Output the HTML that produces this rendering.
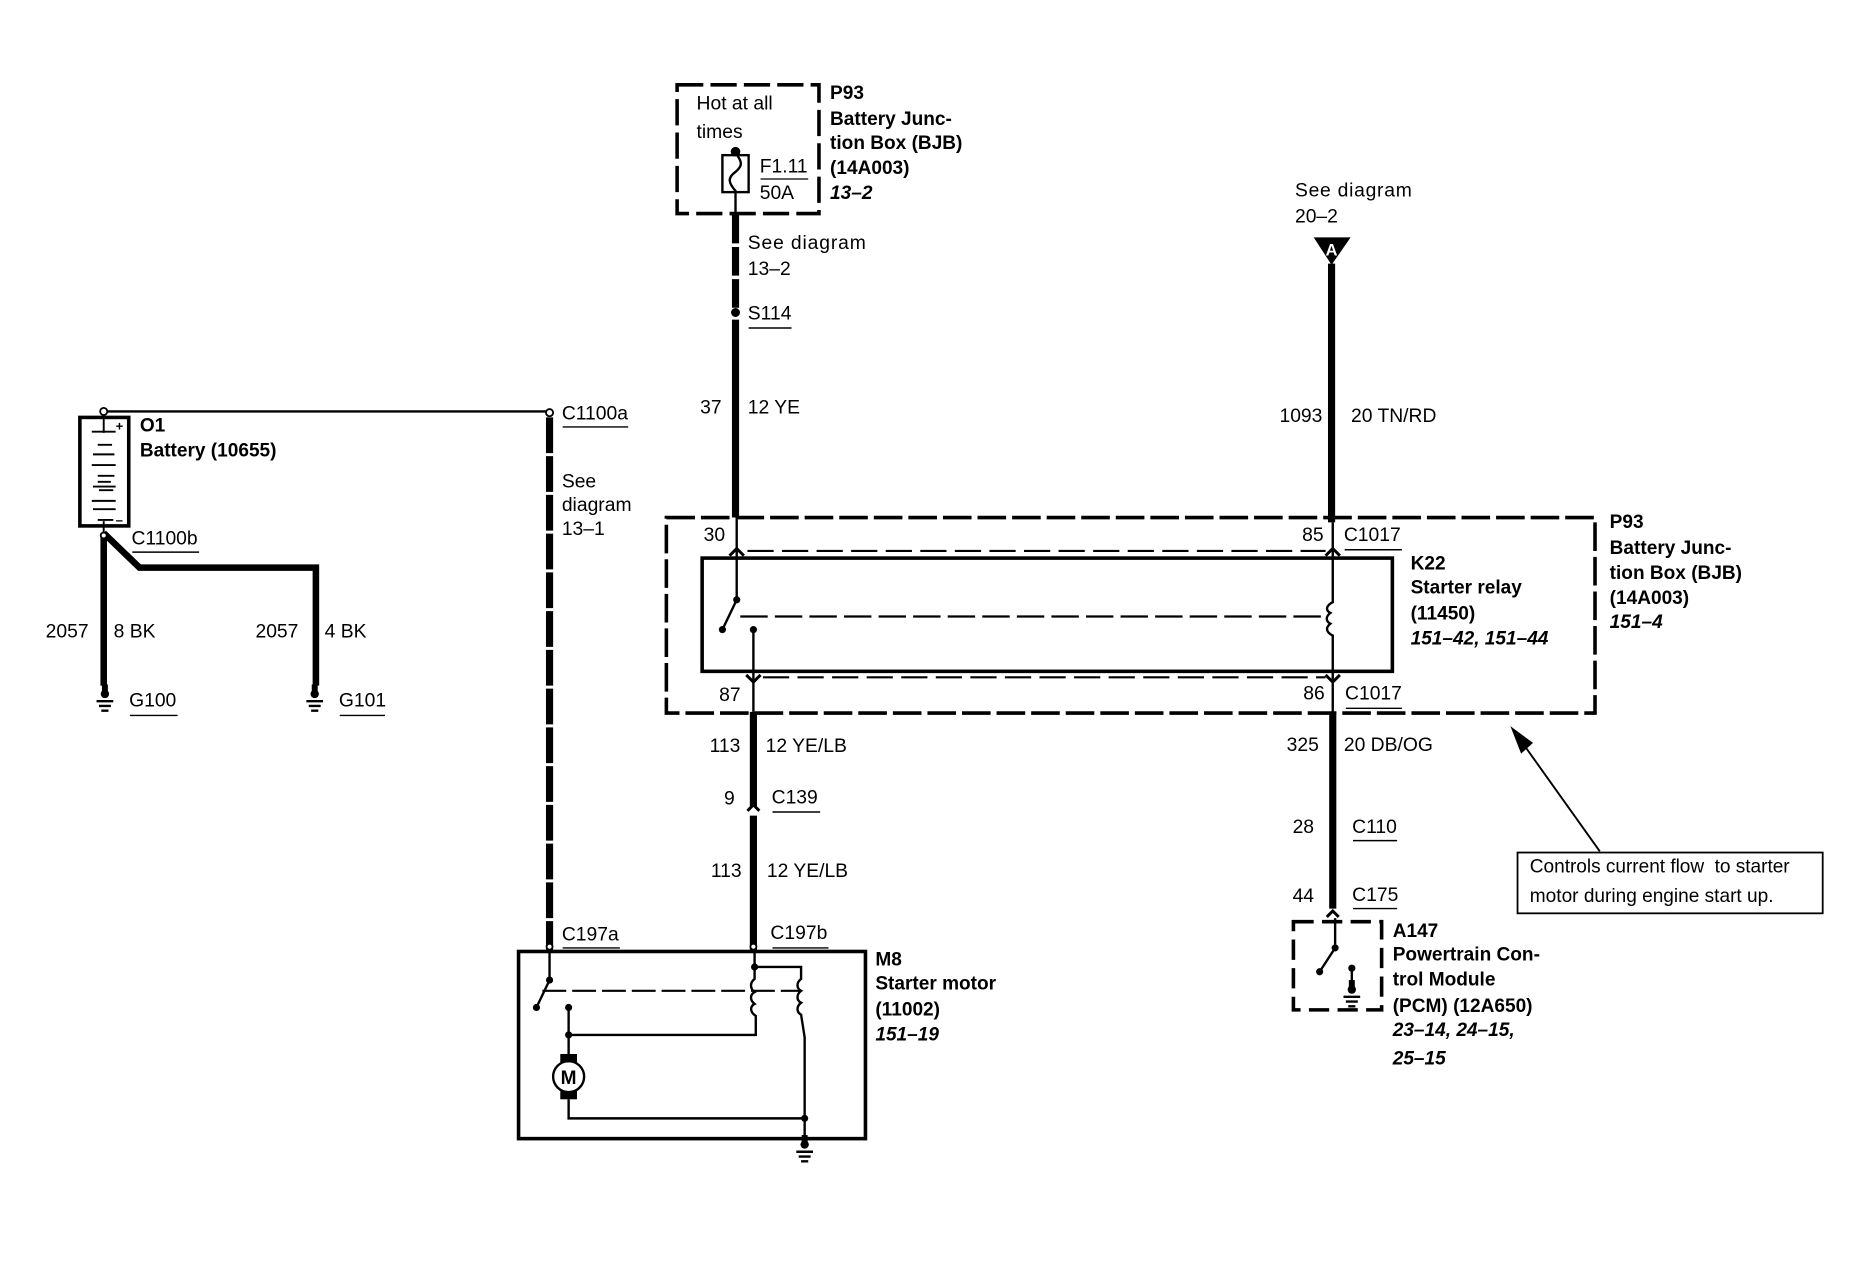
<!DOCTYPE html>
<html><head><meta charset="utf-8"><style>
html,body{margin:0;padding:0;background:#fff}
svg{display:block}
text{font-family:"Liberation Sans",sans-serif;font-size:16.2px;fill:#000}
.b{font-weight:bold;font-size:16px}.i{font-weight:bold;font-style:italic;font-size:16px}
.s{font-size:16px;white-space:pre}
</style></head><body>
<svg width="1868" height="1264" viewBox="0 0 1567 1060" xmlns="http://www.w3.org/2000/svg">
<defs>
<g id="gnd"><circle cx="0" cy="0" r="3.5"/><path d="M-7 6H7M-5 10H5M-3 14H3" stroke="#000" stroke-width="2" fill="none"/><rect x="-2.5" y="-8" width="5" height="8"/></g>
</defs>
<g fill="none" stroke="#000">
<!-- Battery -->
<rect x="67" y="350" width="41" height="91" stroke-width="3" fill="#fff"/>
<path d="M87 345V363M77 362H97M82 373H94M77 390H97M82 404H93M77 420H97" stroke-width="1.6"/>
<path d="M78 381H96M82 399H96M78 408H97M83 411H95M78 427H97M82 436H95M87 437V447" stroke-width="1.6"/>
<path d="M87 345H460" stroke-width="2"/>
<path d="M461 350V797" stroke-width="6" stroke-dasharray="30 2.5"/>
<path d="M87 447V575" stroke-width="5.5"/>
<path d="M87 447L117 476H265V575" stroke-width="5.5"/>
<!-- Fuse box -->
<rect x="568" y="71" width="119" height="108" stroke-width="3" stroke-dasharray="22 6"/>
<rect x="606" y="130" width="22" height="31" stroke-width="2"/>
<path d="M617 128C623 136 623 139 617 144C610 149 611 153 617 160V180" stroke-width="2"/>
<path d="M638 150H678" stroke-width="1"/>
<path d="M617 180V262" stroke-width="6" stroke-dasharray="24 3"/>
<path d="M617 268V434" stroke-width="6"/>
<path d="M1117 221V438" stroke-width="6"/>
<!-- Big dashed box -->
<rect x="559" y="434" width="779" height="164" stroke-width="3" stroke-dasharray="24 5"/>
<rect x="589" y="468" width="579" height="95" stroke-width="3"/>
<path d="M627 462H1112M640 568H1112" stroke-width="1.8" stroke-dasharray="22 7"/>
<path d="M621 517H1114" stroke-width="1.8" stroke-dasharray="23 6"/>
<path d="M618 434V503L606 528" stroke-width="2"/>
<path d="M632 528V597" stroke-width="2"/>
<path d="M1118 438V505C1112 508 1112 512 1116 514C1112 517 1112 521 1116 523C1112 526 1112 530 1118 533V597" stroke-width="2"/>
<path d="M612 466L618 460L624 466M626 566L632 572L638 566M1112 466L1118 460L1124 466M1112 566L1118 572L1124 566" stroke-width="2.5"/>
<!-- Lower wires -->
<path d="M632 597V676M632 684V797" stroke-width="6"/>
<path d="M1118 597V762" stroke-width="6"/>
<path d="M627 680L632 675L637 680M1113 769L1118 764L1123 769" stroke-width="2.5"/>
<!-- Motor box -->
<rect x="435" y="798" width="291" height="157" stroke-width="3"/>
<path d="M461 797V822L450 845" stroke-width="2"/>
<path d="M455 831H672" stroke-width="1.8" stroke-dasharray="20 5"/>
<path d="M477 845V884M477 922V938H675V955" stroke-width="2"/>
<path d="M477 868H634V852C629 849 629 844 633 842C629 839 629 834 633 832C629 829 629 824 633 821V797" stroke-width="2"/>
<path d="M633 811H672V821C668 824 668 829 672 831C668 834 668 839 672 841C668 844 668 849 672 851L675 870V938" stroke-width="2"/>
<circle cx="477" cy="903" r="13" stroke-width="2"/>
<!-- A147 -->
<rect x="1085" y="773" width="74" height="74" stroke-width="3" stroke-dasharray="17 7"/>
<path d="M1120 770V795L1107 815" stroke-width="2"/>
<path d="M1134 812V828" stroke-width="2"/>
<!-- Note -->
<rect x="1273" y="715" width="256" height="51" stroke-width="1.5"/>
<path d="M1342 714L1275 620" stroke-width="1.6"/>
<!-- underlines -->
<path stroke-width="1.2" d="M472 358H527M111 463H167M109 600H149M285 600H323M628 275H664M1128 461H1176M1129 594H1176M648 681H688M1135 705H1172M1135 762H1172M472 795H520M648 795H695"/>
</g>
<!-- dots -->
<g fill="#000">
<circle cx="617" cy="127" r="4"/>
<circle cx="618" cy="503" r="3"/><circle cx="606" cy="528" r="3"/><circle cx="632" cy="528" r="3"/>
<circle cx="461" cy="822" r="3"/><circle cx="450" cy="845" r="3"/><circle cx="477" cy="845" r="3"/><circle cx="477" cy="868" r="3"/>
<circle cx="633" cy="811" r="3"/><circle cx="675" cy="938" r="3"/>
<circle cx="1120" cy="795" r="3"/><circle cx="1107" cy="815" r="3"/><circle cx="1134" cy="812" r="3"/>
<rect x="470" y="884" width="14" height="7"/><rect x="470" y="915" width="14" height="7"/>
<polygon points="1267,609 1286,623 1276,632"/>
<polygon points="1102,199 1133,199 1117,222"/>
<use href="#gnd" x="88" y="582"/><use href="#gnd" x="264" y="582"/>
<use href="#gnd" x="675" y="960"/><use href="#gnd" x="1134" y="830"/>
</g>
<g fill="#fff" stroke="#000" stroke-width="1.5">
<circle cx="87" cy="345" r="3"/><circle cx="87" cy="449" r="2.5"/><circle cx="461" cy="346" r="3"/><circle cx="617" cy="262" r="3" fill="#000"/>
<circle cx="461" cy="794" r="2.5"/><circle cx="632" cy="794" r="2.5"/>
</g>
<text x="1117" y="214" text-anchor="middle" style="fill:#fff;font-size:14px" class="b">A</text>
<text x="97" y="361" class="b" style="font-size:11px">+</text>
<text x="97" y="440" class="b" style="font-size:11px">–</text>
<text x="477" y="909" text-anchor="middle" class="b">M</text>
<g transform="translate(-0.7,-0.3)">
<text x="585" y="92">Hot at all</text><text x="585" y="116">times</text>
<text x="638" y="145">F1.11</text><text x="638" y="167">50A</text>
<text x="697" y="83" class="b">P93</text><text x="697" y="105" class="b">Battery Junc-</text><text x="697" y="125" class="b">tion Box (BJB)</text><text x="697" y="146" class="b">(14A003)</text><text x="697" y="167" class="i">13–2</text>
<text x="628" y="209" textLength="99">See diagram</text><text x="628" y="231">13–2</text><text x="628" y="268">S114</text>
<text x="588" y="347">37</text><text x="628" y="347">12 YE</text>
<text x="1087" y="165" textLength="98">See diagram</text><text x="1087" y="187">20–2</text>
<text x="1074" y="354">1093</text><text x="1134" y="354">20 TN/RD</text>
<text x="591" y="454">30</text><text x="1093" y="454">85</text><text x="1128" y="454">C1017</text>
<text x="604" y="588">87</text><text x="1094" y="587">86</text><text x="1129" y="587">C1017</text>
<text x="1184" y="478" class="b">K22</text><text x="1184" y="498" class="b">Starter relay</text><text x="1184" y="520" class="b">(11450)</text><text x="1184" y="541" class="i">151–42, 151–44</text>
<text x="1351" y="443" class="b">P93</text><text x="1351" y="465" class="b">Battery Junc-</text><text x="1351" y="486" class="b">tion Box (BJB)</text><text x="1351" y="507" class="b">(14A003)</text><text x="1351" y="527" class="i">151–4</text>
<text x="596" y="631">113</text><text x="643" y="631">12 YE/LB</text><text x="608" y="675">9</text><text x="648" y="674">C139</text>
<text x="597" y="736">113</text><text x="644" y="736">12 YE/LB</text>
<text x="1080" y="630">325</text><text x="1128" y="630">20 DB/OG</text>
<text x="1085" y="699">28</text><text x="1135" y="699">C110</text><text x="1085" y="757">44</text><text x="1135" y="756">C175</text>
<text x="472" y="789">C197a</text><text x="647" y="788">C197b</text>
<text x="735" y="810" class="b">M8</text><text x="735" y="830" class="b">Starter motor</text><text x="735" y="852" class="b">(11002)</text><text x="735" y="873" class="i">151–19</text>
<text x="1169" y="786" class="b">A147</text><text x="1169" y="806" class="b">Powertrain Con-</text><text x="1169" y="827" class="b">trol Module</text><text x="1169" y="849" class="b">(PCM) (12A650)</text><text x="1169" y="869" class="i">23–14, 24–15,</text><text x="1169" y="893" class="i">25–15</text>
<text x="1284" y="732" class="s" textLength="218">Controls current flow  to starter</text><text x="1284" y="757" class="s">motor during engine start up.</text>
<text x="118" y="362" class="b">O1</text><text x="118" y="383" class="b">Battery (10655)</text>
<text x="472" y="352">C1100a</text><text x="472" y="409">See</text><text x="472" y="429">diagram</text><text x="472" y="449">13–1</text>
<text x="111" y="457">C1100b</text>
<text x="39" y="535">2057</text><text x="96" y="535">8 BK</text><text x="215" y="535">2057</text><text x="273" y="535">4 BK</text>
<text x="109" y="593">G100</text><text x="285" y="593">G101</text>
</g>
</svg>
</body></html>
